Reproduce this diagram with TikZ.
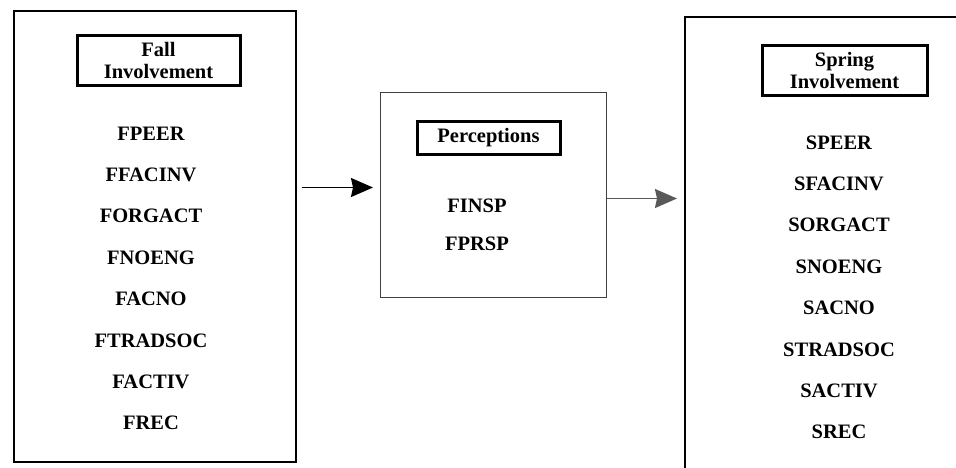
\documentclass[tikz,border=0pt]{standalone}
\usepackage{fontspec}
\setmainfont{Liberation Serif}
\usetikzlibrary{arrows.meta}
\usetikzlibrary{positioning}

\begin{document}
\begin{tikzpicture}[x=1pt,y=-1pt,node distance=27pt]
        \tikzstyle{every node}=[font=\bfseries\fontsize{20.5pt}{22pt}\selectfont]
        \tikzstyle{panel}=[draw,line width=1.6pt,anchor=north west,inner sep=0pt]
        \tikzstyle{heading}=[draw,line width=3pt,align=center,inner sep=0pt]
        \tikzstyle{item}=[inner sep=0pt,text height=14pt,text depth=0pt]
        \tikzstyle{flow}=[line width=1.5pt,-{Stealth[length=22pt,width=19pt,inset=2pt]}]
        \useasboundingbox (0,0) rectangle (956,467);
        % the three panels
        \node[panel,minimum width=282pt,minimum height=451pt] (fall) at (13,10) {};
        \node[panel,line width=1pt,draw=black!75,minimum width=226pt,minimum height=205pt] (perc) at (380,92) {};
        \node[panel,minimum width=300pt,minimum height=470pt] (spring) at (684,16) {};
        % headings
        \node[heading,minimum width=163pt,minimum height=50pt] (falltitle) at (158.5,60) {Fall\\Involvement};
        \node[heading,minimum width=143pt,minimum height=33pt] (perctitle) at (488.5,137.5) {Perceptions};
        \node[heading,minimum width=165pt,minimum height=50pt] (springtitle) at (844.5,70) {Spring\\Involvement};
        % fall items
        \node[item] (fpeer) at (151,133) {FPEER};
        \node[item] (ffacinv) [below=of fpeer] {FFACINV};
        \node[item] (forgact) [below=of ffacinv] {FORGACT};
        \node[item] (fnoeng) [below=of forgact] {FNOENG};
        \node[item] (facno) [below=of fnoeng] {FACNO};
        \node[item] (ftradsoc) [below=of facno] {FTRADSOC};
        \node[item] (factiv) [below=of ftradsoc] {FACTIV};
        \node[item] (frec) [below=of factiv] {FREC};
        % perceptions items
        \node[item] (finsp) at (477,205) {FINSP};
        \node[item] (fprsp) [below=24pt of finsp] {FPRSP};
        % spring items
        \node[item] (speer) at (839,142) {SPEER};
        \node[item] (sfacinv) [below=of speer] {SFACINV};
        \node[item] (sorgact) [below=of sfacinv] {SORGACT};
        \node[item] (snoeng) [below=of sorgact] {SNOENG};
        \node[item] (sacno) [below=of snoeng] {SACNO};
        \node[item] (stradsoc) [below=of sacno] {STRADSOC};
        \node[item] (sactiv) [below=of stradsoc] {SACTIV};
        \node[item] (srec) [below=of sactiv] {SREC};
        % arrows
        \coordinate (in) at ([yshift=7.5pt]perc.west);
        \coordinate (out) at ([yshift=-3.5pt]perc.east);
        \draw[flow,shorten <=5pt,shorten >=7pt] (fall.east |- in) -- (in);
        \draw[flow,black!65,shorten >=7pt] (out) -- (spring.west |- out);
\end{tikzpicture}
\end{document}
